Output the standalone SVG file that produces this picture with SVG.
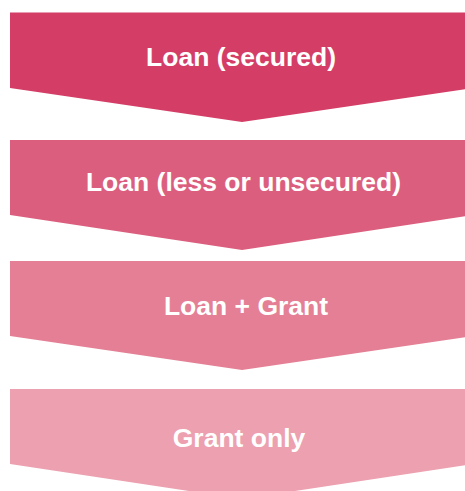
<svg xmlns="http://www.w3.org/2000/svg" width="465" height="491" viewBox="0 0 465 491">
<style>
.lbl{font-family:"Liberation Sans",Arial,sans-serif;font-weight:bold;font-size:26.5px;fill:#ffffff;text-anchor:middle}
</style>
<rect width="465" height="491" fill="#ffffff"/>
<g id="connectors"></g>
<g id="node1">
<polygon points="10,12.5 474,12.5 474,88 242,122 10,88" fill="#D43D66"/>
<text class="lbl" x="241" y="65.5">Loan (secured)</text>
</g>
<g id="node2">
<polygon points="10,140 474,140 474,215 242,250 10,215" fill="#DC5E7E"/>
<text class="lbl" x="243.5" y="190.5">Loan (less or unsecured)</text>
</g>
<g id="node3">
<polygon points="10,261 474,261 474,336 242,370 10,336" fill="#E47F95"/>
<text class="lbl" x="246" y="314.5">Loan + Grant</text>
</g>
<g id="node4">
<polygon points="10,389 474,389 474,464 242,499 10,464" fill="#ECA0B0"/>
<text class="lbl" x="239" y="446.5">Grant only</text>
</g>
</svg>
